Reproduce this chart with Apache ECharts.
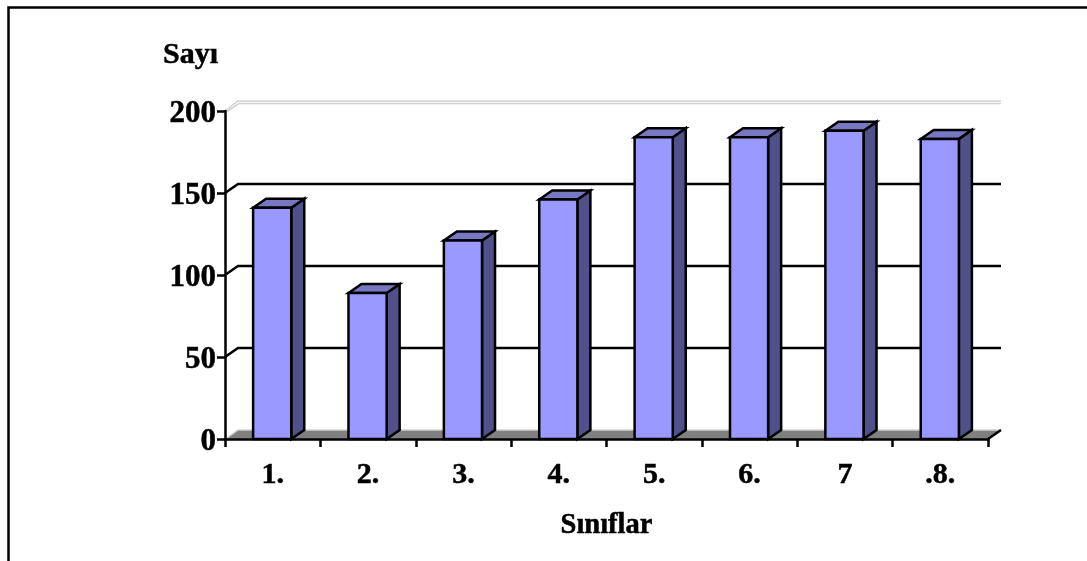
<!DOCTYPE html>
<html><head><meta charset="utf-8">
<script src="https://cdn.jsdelivr.net/npm/echarts@6/dist/echarts.min.js"></script>
<style>html,body{margin:0;padding:0;background:#fff}#c{width:1087px;height:561px}</style>
</head><body><div id="c"></div>
<script>
const categories = ['1.','2.','3.','4.','5.','6.','7','.8.'];
const values = [141, 89, 121, 146, 184, 184, 188, 183];
const gridValues = [50, 100, 150];
const topValue = [200];
const yName = 'Sayı';
const xName = 'Sınıflar';

const DX = 13, DY = 9;
const font = {fontFamily:'"Liberation Serif","Times New Roman",serif',fontWeight:'bold',color:'#000',textBorderColor:'#000',textBorderWidth:0.5};
const chart = echarts.init(document.getElementById('c'));

function poly(pts, fill, stroke, w){
  return {type:'polygon',shape:{points:pts},style:{fill:fill,stroke:stroke||null,lineWidth:w||0,lineJoin:'miter'}};
}
function line(pts, stroke, w){
  return {type:'polyline',shape:{points:pts},style:{fill:null,stroke:stroke,lineWidth:w}};
}
chart.setOption({
  animation:false,
  backgroundColor:'#fff',
  graphic:[{type:'polyline',shape:{points:[[8.5,561],[8.5,7.5],[1087,7.5]]},style:{fill:null,stroke:'#000',lineWidth:2.5},z:20}],
  grid:{left:225,right:99,top:111,bottom:122},
  xAxis:{type:'category',data:categories,z:10,
    name:xName,nameLocation:'middle',nameGap:72,nameTextStyle:{...font,fontSize:28.5},
    axisLine:{lineStyle:{color:'#000',width:2.5}},
    axisTick:{show:true,length:8,alignWithLabel:false,lineStyle:{color:'#000',width:2.5}},
    axisLabel:{...font,fontSize:30,margin:21},
    splitLine:{show:false}},
  yAxis:{type:'value',min:0,max:200,interval:50,z:10,
    name:yName,nameLocation:'end',nameGap:0,
    nameTextStyle:{...font,fontSize:30,align:'right',verticalAlign:'bottom',padding:[0,7,41,0]},
    axisLine:{show:true,lineStyle:{color:'#000',width:2.5}},
    axisTick:{show:true,length:8,lineStyle:{color:'#000',width:2.5}},
    axisLabel:{...font,fontSize:31,margin:9,verticalAlign:'top',lineHeight:5},
    splitLine:{show:false}},
  series:[
    {type:'custom',z:1,silent:true,data:[0],encode:{x:0,y:0},clip:false,
     renderItem(params,api){
       const c=params.coordSys, y=c.y+c.height, x0=c.x, x1=c.x+c.width;
       return {type:'group',children:[
         poly([[x0,y],[x1,y],[x1+DX,y-DY],[x0+DX,y-DY]],'#808080'),
         line([[x0+DX,y-DY],[x1+DX,y-DY]],'#d0d0d0',1.5),
         line([[x0+2,y-1],[x0+DX,y-DY]],'#d0d0d0',1.5),
         line([[x1,y],[x1+DX,y-DY]],'#000',2.5)
       ]};
     }},
    {type:'custom',z:2,silent:true,data:gridValues.map(v=>[0,v]),clip:false,
     renderItem(params,api){
       const c=params.coordSys, y=api.coord([0,api.value(1)])[1], x0=c.x, x1=c.x+c.width;
       return line([[x0,y],[x0+DX,y-DY],[x1+DX,y-DY]],'#000',2.5);
     }},
    {type:'custom',z:2,silent:true,data:topValue.map(v=>[0,v]),clip:false,
     renderItem(params,api){
       const c=params.coordSys, y=api.coord([0,api.value(1)])[1], x0=c.x, x1=c.x+c.width;
       return {type:'group',children:[
         line([[x0,y],[x0+DX,y-DY-1],[x1+DX,y-DY-1]],'#d2d2d2',1.5),
         line([[x0+1,y+1],[x0+DX+1,y-DY+1.5],[x1+DX,y-DY+1.5]],'#d2d2d2',1.5)
       ]};
     }},
    {type:'custom',z:3,data:values.map((v,i)=>[i,v]),encode:{x:0,y:1},clip:false,
     renderItem(params,api){
       const p=api.coord([api.value(0),api.value(1)]), b=api.coord([api.value(0),0]);
       const w=api.size([1,0])[0]*0.4, l=p[0]-w/2-0.5, r=l+w, t=p[1], y0=b[1];
       return {type:'group',children:[
         poly([[r,y0],[r+DX,y0-DY],[r+DX,t-DY],[r,t]],'#50508a','#000',2.5),
         poly([[l,t],[r,t],[r+DX,t-DY],[l+DX,t-DY]],'#7777c2','#000',2.5),
         poly([[l,t],[r,t],[r,y0],[l,y0]],'#9999ff','#000',2.5)
       ]};
     }}
  ]
});
</script></body></html>
